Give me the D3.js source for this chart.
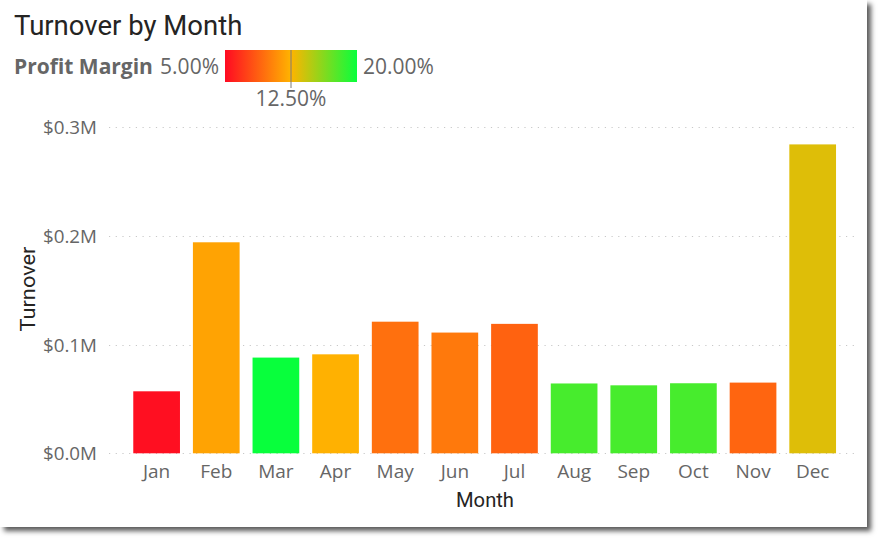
<!DOCTYPE html>
<html><head><meta charset="utf-8">
<script src="https://cdn.jsdelivr.net/npm/d3@7/dist/d3.min.js"></script>
<style>
html,body{margin:0;padding:0;background:#fff;}
#card{position:absolute;left:0;top:0;width:867px;height:527px;background:#fff;box-shadow:4px 4px 5px rgba(0,0,0,0.65);}
svg{position:absolute;left:0;top:0;}
</style></head><body>
<div id="card"></div>
<svg id="chart" width="882" height="541"></svg>
<script>
const months = ["Jan","Feb","Mar","Apr","May","Jun","Jul","Aug","Sep","Oct","Nov","Dec"];
const turnover = [0.057, 0.194, 0.088, 0.091, 0.121, 0.111, 0.119, 0.0642, 0.0625, 0.0644, 0.065, 0.284];
const profitMargin = [0.052, 0.1175, 0.20, 0.1235, 0.095, 0.099, 0.089, 0.181, 0.181, 0.181, 0.090, 0.135];
const yTicks = [0, 0.1, 0.2, 0.3];
const legendStops = [0.05, 0.125, 0.20];
const legendColors = ["#ff0a22", "#ffb400", "#08ff3c"];

const svg = d3.select("#chart");
const labelFont = "'Open Sans', 'Noto Sans', sans-serif";
const titleFont = "'Roboto', sans-serif";
const grey = "#666666";
const dark = "#252423";

const x = d3.scaleBand().domain(months).range([126.8, 842.5]).paddingInner(0.217).paddingOuter(0.1085);
const y = d3.scaleLinear().domain([0, 0.3]).range([453.3, 127]);
const color = d3.scaleLinear().domain(legendStops).range(legendColors).interpolate(d3.interpolateRgb);

// Title
svg.append("text").attr("x", 14).attr("y", 35).text("Turnover by Month")
  .attr("font-family", titleFont).attr("font-size", 27.5).attr("fill", dark);

// Legend
const lg = svg.append("g").attr("font-family", labelFont).attr("font-size", 21).attr("fill", grey);
lg.append("text").attr("x", 14).attr("y", 74).attr("font-weight", "bold").text("Profit Margin");
lg.append("text").attr("x", 219).attr("y", 74).attr("text-anchor", "end").text(d3.format(".2%")(legendStops[0]));
lg.append("text").attr("x", 363).attr("y", 74).text(d3.format(".2%")(legendStops[2]));
const defs = svg.append("defs");
const grad = defs.append("linearGradient").attr("id", "pm").attr("x1", "0%").attr("x2", "100%");
legendStops.forEach((s, i) => grad.append("stop")
  .attr("offset", ((s - legendStops[0]) / (legendStops[2] - legendStops[0]) * 100) + "%")
  .attr("stop-color", legendColors[i]));
const lx = d3.scaleLinear().domain([legendStops[0], legendStops[2]]).range([225, 357]);
svg.append("rect").attr("x", lx(legendStops[0])).attr("y", 50).attr("width", lx(legendStops[2]) - lx(legendStops[0]))
  .attr("height", 32).attr("fill", "url(#pm)");
svg.append("line").attr("x1", lx(legendStops[1])).attr("x2", lx(legendStops[1])).attr("y1", 50).attr("y2", 88)
  .attr("stroke", "#7a7a7a").attr("stroke-width", 1);
lg.append("text").attr("x", lx(legendStops[1])).attr("y", 106).attr("text-anchor", "middle")
  .text(d3.format(".2%")(legendStops[1]));

// Gridlines
svg.append("g").selectAll("line").data(yTicks).join("line")
  .attr("x1", 109).attr("x2", 857).attr("y1", d => Math.round(y(d)) + 0.5).attr("y2", d => Math.round(y(d)) + 0.5)
  .attr("stroke", "#c8c8c8").attr("stroke-width", 1).attr("stroke-dasharray", "1.2,5.5");

// Y axis
const yAxis = d3.axisLeft(y).tickValues(yTicks).tickSize(0).tickPadding(0)
  .tickFormat(d => "$" + d3.format(".1f")(d) + "M");
const ya = svg.append("g").attr("transform", "translate(97,0)").call(yAxis);
ya.select(".domain").remove();
ya.selectAll("text").attr("font-family", labelFont).attr("font-size", 18.8).attr("fill", grey).attr("dy", "0.35em");

// X axis
const xAxis = d3.axisBottom(x).tickSize(0).tickPadding(0);
const xa = svg.append("g").attr("transform", "translate(0,478)").call(xAxis);
xa.select(".domain").remove();
xa.selectAll("text").attr("font-family", labelFont).attr("font-size", 19).attr("fill", grey).attr("dy", "0");

// Axis titles
svg.append("text").attr("transform", "translate(35,289) rotate(-90)").attr("text-anchor", "middle")
  .attr("font-family", titleFont).attr("font-size", 20.5).attr("fill", dark)
  .attr("textLength", 85).attr("lengthAdjust", "spacingAndGlyphs").text("Turnover");
svg.append("text").attr("x", 485).attr("y", 507).attr("text-anchor", "middle")
  .attr("font-family", titleFont).attr("font-size", 20.5).attr("fill", dark)
  .attr("textLength", 58).attr("lengthAdjust", "spacingAndGlyphs").text("Month");

// Bars
svg.append("g").selectAll("rect").data(months).join("rect")
  .attr("x", d => x(d)).attr("width", x.bandwidth())
  .attr("y", (d, i) => y(turnover[i])).attr("height", (d, i) => y(0) - y(turnover[i]))
  .attr("fill", (d, i) => color(profitMargin[i]));
</script>
</body></html>
